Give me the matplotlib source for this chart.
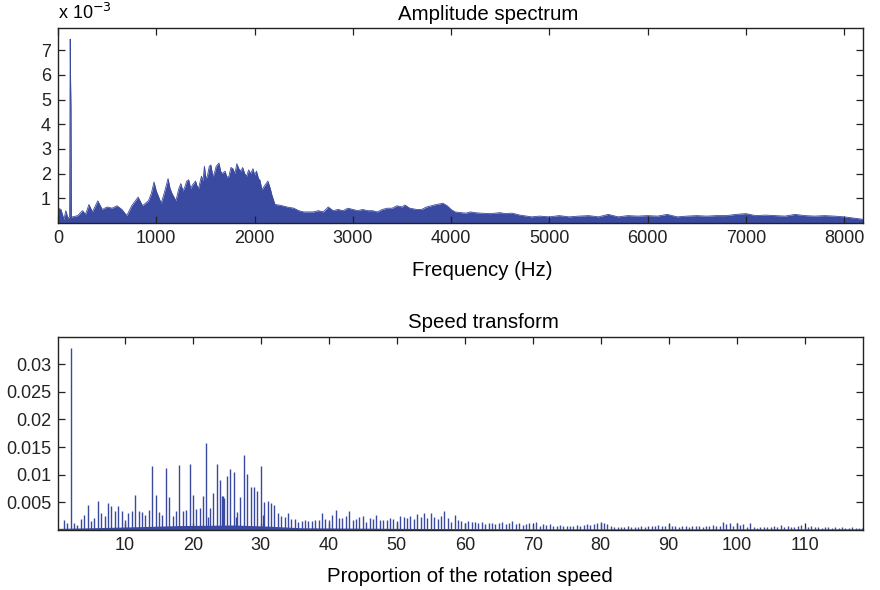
import numpy as np
import matplotlib
matplotlib.use("Agg")
import matplotlib.pyplot as plt

# ── Data ──
# Amplitude spectrum: upper envelope of the dense spectrum (x 1e-3)
freq_hz = [0, 30, 60, 80, 100, 118, 124, 128, 132, 136, 150, 200, 250, 280, 315,
           350, 405, 450, 500, 550, 600, 650, 700, 750, 815, 860, 920, 950, 977, 1000,
           1010, 1050, 1080, 1120, 1140, 1160, 1200, 1230, 1250, 1270, 1290, 1310,
           1330, 1350, 1370, 1400, 1415, 1430, 1460, 1475, 1490, 1505, 1520, 1540,
           1556, 1575, 1590, 1610, 1638, 1655, 1670, 1700, 1720, 1740, 1760, 1780,
           1800, 1820, 1840, 1860, 1880, 1900, 1920, 1940, 1960, 1984, 2000, 2020,
           2040, 2055, 2075, 2100, 2136, 2160, 2177, 2208, 2260, 2330,
           2400, 2450, 2500, 2600, 2650, 2700, 2750, 2800, 2850, 2900, 2950, 3000,
           3050, 3100, 3150, 3200, 3250, 3300, 3350, 3400, 3450, 3500, 3530, 3580,
           3650, 3700, 3750, 3800, 3850, 3917, 3960, 4000, 4040, 4100, 4150, 4200,
           4242, 4300, 4400, 4500, 4550, 4620, 4700, 4820, 4900, 5000, 5100, 5200,
           5300, 5400, 5500, 5600, 5700, 5800, 5900, 6000, 6100, 6200, 6300, 6400,
           6500, 6600, 6700, 6800, 6900, 7000, 7100, 7200, 7300, 7400, 7500, 7600,
           7700, 7800, 7900, 8000, 8100, 8192]
amp_e3 = [0.6, 0.55, 0.15, 0.5, 0.2, 0.25, 7.45, 5.8, 4.7, 0.25, 0.25, 0.3, 0.5, 0.35, 0.75,
          0.45, 0.9, 0.55, 0.65, 0.6, 0.7, 0.55, 0.3, 0.7, 1.05, 0.7, 0.9, 1.2, 1.66, 1.3,
          1.2, 0.8, 1.2, 1.8, 1.4, 1.2, 0.9, 1.4, 1.6, 1.3, 1.45, 1.7,
          1.75, 1.4, 1.55, 1.7, 1.5, 1.4, 1.9, 1.7, 2.3, 1.8, 1.9, 2.3,
          2.35, 1.9, 2.0, 2.3, 2.43, 2.1, 2.0, 2.1, 1.85, 1.9, 2.25, 2.2,
          2.0, 2.4, 2.2, 2.1, 2.25, 2.0, 1.9, 2.15, 2.0, 2.2, 1.95, 2.1,
          1.8, 1.74, 1.35, 1.5, 1.7, 1.4, 1.13, 0.75, 0.72, 0.65,
          0.6, 0.5, 0.45, 0.45, 0.5, 0.45, 0.65, 0.5, 0.55, 0.5, 0.6, 0.55,
          0.5, 0.55, 0.5, 0.5, 0.45, 0.55, 0.6, 0.6, 0.7, 0.65, 0.73, 0.6,
          0.55, 0.55, 0.65, 0.7, 0.75, 0.8, 0.7, 0.55, 0.45, 0.42, 0.4, 0.45,
          0.42, 0.4, 0.38, 0.42, 0.38, 0.4, 0.32, 0.25, 0.28, 0.25, 0.3, 0.25,
          0.28, 0.3, 0.25, 0.35, 0.25, 0.3, 0.28, 0.3, 0.28, 0.35, 0.25, 0.28,
          0.3, 0.28, 0.3, 0.3, 0.35, 0.38, 0.3, 0.32, 0.3, 0.28, 0.35, 0.3,
          0.28, 0.3, 0.28, 0.25, 0.2, 0.15]

# Speed transform: peaks every half order, starting at order 1.0
order_start = 1.0
order_step = 0.5
speed_amp = [
    0.0018, 0.0012, 0.0330, 0.0013, 0.0009, 0.0020, 0.0028, 0.0046, 0.0017, 0.0022,
    0.0053, 0.0030, 0.0025, 0.0048, 0.0043, 0.0034, 0.0043, 0.0034, 0.0018, 0.0031,
    0.0034, 0.0064, 0.0034, 0.0033, 0.0027, 0.0037, 0.0115, 0.0063, 0.0032, 0.0028,
    0.0113, 0.0060, 0.0025, 0.0034, 0.0117, 0.0035, 0.0037, 0.0120, 0.0063, 0.0038,
    0.0040, 0.0062, 0.0158, 0.0040, 0.0067, 0.0119, 0.0090, 0.0062, 0.0097, 0.0110,
    0.0105, 0.0032, 0.0060, 0.0135, 0.0102, 0.0078, 0.0077, 0.0070, 0.0115, 0.0051,
    0.0052, 0.0049, 0.0045, 0.0030, 0.0026, 0.0023, 0.0030, 0.0020, 0.0020, 0.0015,
    0.0017, 0.0018, 0.0017, 0.0017, 0.0018, 0.0018, 0.0030, 0.0020, 0.0018, 0.0028,
    0.0036, 0.0021, 0.0021, 0.0025, 0.0035, 0.0018, 0.0019, 0.0024, 0.0026, 0.0015,
    0.0021, 0.0019, 0.0028, 0.0018, 0.0018, 0.0018, 0.0022, 0.0020, 0.0017, 0.0025,
    0.0023, 0.0021, 0.0026, 0.0019, 0.0029, 0.0024, 0.0031, 0.0022, 0.0030, 0.0023,
    0.0020, 0.0026, 0.0034, 0.0021, 0.0015, 0.0028, 0.0018, 0.0017, 0.0012, 0.0016,
    0.0014, 0.0015, 0.0013, 0.0014, 0.0011, 0.0013, 0.0012, 0.0010, 0.0012, 0.0014,
    0.0010, 0.0012, 0.0017, 0.0011, 0.0012, 0.0009, 0.0011, 0.0013, 0.0009, 0.0014,
    0.0008, 0.0011, 0.0009, 0.0010, 0.0007, 0.0008, 0.0009, 0.0007, 0.0008, 0.0007,
    0.0008, 0.0009, 0.0008, 0.0009, 0.0010, 0.0009, 0.0011, 0.0012, 0.0015, 0.0012,
    0.0011, 0.0008, 0.0006, 0.0005, 0.0006, 0.0005, 0.0007, 0.0006, 0.0005, 0.0006,
    0.0007, 0.0006, 0.0008, 0.0007, 0.0008, 0.0009, 0.0007, 0.0008, 0.0010, 0.0008,
    0.0007, 0.0006, 0.0008, 0.0007, 0.0006, 0.0008, 0.0007, 0.0008, 0.0006, 0.0008,
    0.0007, 0.0009, 0.0008, 0.0007, 0.0015, 0.0010, 0.0012, 0.0008, 0.0013, 0.0009,
    0.0011, 0.0006, 0.0013, 0.0005, 0.0004, 0.0006, 0.0005, 0.0006, 0.0005, 0.0008,
    0.0006, 0.0009, 0.0006, 0.0007, 0.0005, 0.0006, 0.0007, 0.0009, 0.0006, 0.0006,
    0.0007, 0.0005, 0.0006, 0.0004, 0.0005, 0.0006, 0.0004, 0.0005, 0.0004, 0.0005,
    0.0004, 0.0004, 0.0005, 0.0004, 0.0004, 0.0004,
]
# a few extra off-grid lines
extra_order = [22.2, 24.3, 24.6, 26.3, 30.3]
extra_amp = [0.0024, 0.0062, 0.0057, 0.0024, 0.0027]
# low noise floor under the speed peaks
floor_order = [0.2, 5, 12, 18, 26, 31, 36, 50, 70, 118.6]
floor_amp = [0.0003, 0.0004, 0.0006, 0.0008, 0.0009, 0.0007, 0.0004, 0.0003, 0.0002, 0.0002]

BLUE = "#3a4aa0"
FONT = "Liberation Sans"
TICK_FS = 13
LABEL_FS = 14.7

plt.rcParams["font.family"] = FONT
plt.rcParams["axes.linewidth"] = 1.0


def matlab_axes(ax):
    ax.tick_params(direction="in", top=True, right=True, length=5, width=0.9,
                   labelsize=TICK_FS, pad=5, colors="#222222")
    for s in ax.spines.values():
        s.set_color("#222222")


fig = plt.figure(figsize=(8.8, 5.9), dpi=100)

# ── Top: amplitude spectrum ──
ax1 = fig.add_axes([0.0659, 0.622, 0.9148, 0.3305])
ax1.fill_between(freq_hz, 0, amp_e3, color=BLUE, linewidth=0)
ax1.plot(freq_hz, amp_e3, color=BLUE, linewidth=0.6)
ax1.set_xlim(0, 8192)
ax1.set_ylim(0, 7.9)
ax1.set_xticks(range(0, 8001, 1000))
ax1.set_yticks(range(1, 8))
matlab_axes(ax1)
ax1.text(0.0, 1.025, r"x 10$^{-3}$", transform=ax1.transAxes, fontsize=TICK_FS,
         ha="left", va="bottom")
ax1.set_title("Amplitude spectrum", x=0.534, pad=5.5, fontsize=LABEL_FS)
fig.text(0.548, 1 - 276 / 590, "Frequency (Hz)", ha="center", va="baseline",
         fontsize=LABEL_FS)

# ── Bottom: speed transform ──
ax2 = fig.add_axes([0.0659, 0.1017, 0.9148, 0.327])
orders = order_start + order_step * np.arange(len(speed_amp))
ax2.fill_between(floor_order, 0, floor_amp, color=BLUE, linewidth=0)
ax2.vlines(orders, 0, speed_amp, color=BLUE, linewidth=1.0)
ax2.vlines(extra_order, 0, extra_amp, color=BLUE, linewidth=1.0)
ax2.set_xlim(0.15, 118.6)
ax2.set_ylim(0, 0.0349)
ax2.set_xticks(range(10, 111, 10))
ax2.set_yticks([0.005, 0.01, 0.015, 0.02, 0.025, 0.03])
ax2.set_yticklabels(["0.005", "0.01", "0.015", "0.02", "0.025", "0.03"])
matlab_axes(ax2)
ax2.set_title("Speed transform", x=0.529, pad=6.5, fontsize=LABEL_FS)
fig.text(0.534, 1 - 582 / 590, "Proportion of the rotation speed", ha="center",
         va="baseline", fontsize=LABEL_FS)

fig.savefig("out.png", dpi=100)
